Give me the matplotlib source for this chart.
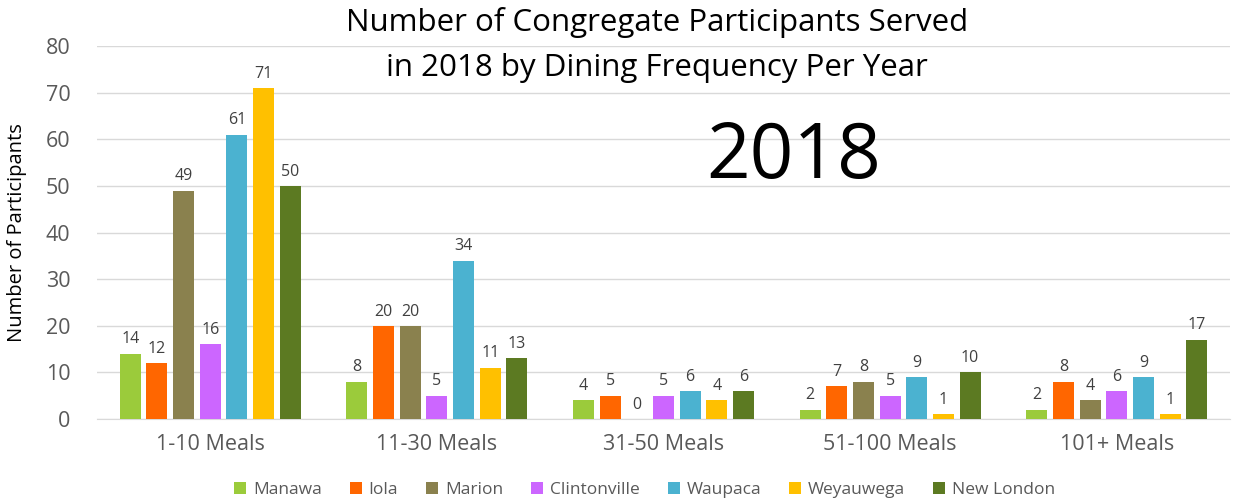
import matplotlib.pyplot as plt
import numpy as np

categories = ['1-10 Meals', '11-30 Meals', '31-50 Meals', '51-100 Meals', '101+ Meals']
series_names = ['Manawa', 'Iola', 'Marion', 'Clintonville', 'Waupaca', 'Weyauwega', 'New London']
manawa = [14, 8, 4, 2, 2]
iola = [12, 20, 5, 7, 8]
marion = [49, 20, 0, 8, 4]
clintonville = [16, 5, 5, 5, 6]
waupaca = [61, 34, 6, 9, 9]
weyauwega = [71, 11, 4, 1, 1]
new_london = [50, 13, 6, 10, 17]
colors = ['#9BCB3B', '#FF6600', '#8A814E', '#CC66FF', '#4BB2D0', '#FFC000', '#5C7A22']

plt.rcParams['font.family'] = ['Open Sans', 'DejaVu Sans']

fig = plt.figure(figsize=(12.35, 5.01), dpi=100)
ax = fig.add_axes([0.0785, 0.1637, 0.9175, 0.7443])

values = [manawa, iola, marion, clintonville, waupaca, weyauwega, new_london]
x = np.arange(len(categories))
step = 0.1177
width = 0.093
for i, (name, vals) in enumerate(zip(series_names, values)):
    pos = x + (i - 3) * step
    ax.bar(pos, vals, width, color=colors[i], label=name, zorder=3)
    for p, v in zip(pos, vals):
        ax.annotate(str(v), (p, v), xytext=(0, 4.5), textcoords='offset points',
                    ha='center', va='bottom', fontsize=11.5, color='#404040')

ax.set_xlim(-0.5, len(categories) - 0.5)
ax.set_ylim(0, 80)
ax.set_yticks(range(0, 81, 10))
ax.set_xticks(x)
ax.set_xticklabels(categories)
ax.tick_params(axis='both', length=0, labelsize=15.5, labelcolor='#595959')
ax.tick_params(axis='x', pad=11)
ax.tick_params(axis='y', pad=19)
ax.grid(axis='y', color='#D9D9D9', linewidth=1, zorder=0)
for s in ['top', 'right', 'left']:
    ax.spines[s].set_visible(False)
ax.spines['bottom'].set_color('#D9D9D9')
ax.set_ylabel('Number of Participants', fontsize=14.5, color='black')
ax.yaxis.set_label_coords(-0.062, 0.5)

fig.text(0.532, 0.956, 'Number of Congregate Participants Served',
         ha='center', va='center', fontsize=22.5)
fig.text(0.532, 0.864, 'in 2018 by Dining Frequency Per Year',
         ha='center', va='center', fontsize=22.5)
ax.text(0.615, 0.7, '2018', transform=ax.transAxes, ha='center', va='center', fontsize=55)

leg = fig.legend(loc='lower center', ncol=7, frameon=False, fontsize=12.5,
                 bbox_to_anchor=(0.522, -0.025), handlelength=0.7, handleheight=0.7,
                 columnspacing=1.6, handletextpad=0.4)
for t in leg.get_texts():
    t.set_color('#595959')

fig.savefig('out.png', dpi=100)
